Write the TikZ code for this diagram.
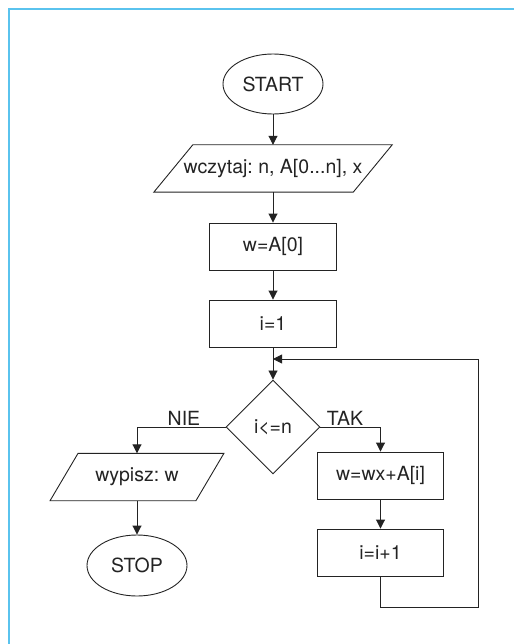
\documentclass[tikz,border=0pt]{standalone}
\usepackage{fontspec}
\setmainfont{TeX Gyre Heros}
\frenchspacing
\usetikzlibrary{shapes.geometric,arrows.meta,calc}
\definecolor{framebl}{RGB}{90,195,238}
\definecolor{ink}{RGB}{35,35,35}
\begin{document}
\begin{tikzpicture}[x=1pt,y=-1pt,
  every node/.style={font=\fontsize{19.5}{22}\selectfont, text=ink},
  shp/.style={draw=ink, line width=0.9pt, inner sep=0pt},
  term/.style={shp, ellipse, minimum width=100, minimum height=60},
  proc/.style={shp, rectangle, minimum width=127, minimum height=47},
  io/.style={rectangle, inner sep=0pt, minimum height=47},
  dec/.style={shp, diamond, minimum width=94, minimum height=94},
  lbl/.style={inner sep=0pt},
  conn/.style={draw=ink, line width=0.9pt, -{Triangle[length=9pt,width=9pt]}},
  plain/.style={draw=ink, line width=0.9pt}]
\useasboundingbox (0,0) rectangle (514,644);
\draw[framebl, line width=2pt] (9,644) -- (9,9) -- (514,9);

\node[term] (start) at (273,84) {START};
\node[io, minimum width=199] (in1) at (273,168.5) {wczytaj: n, A[0...n], x};
\draw[plain] ($(in1.north west)+(19.5,0)$) -- ($(in1.north east)+(19.5,0)$)
  -- ($(in1.south east)+(-19.5,0)$) -- ($(in1.south west)+(-19.5,0)$) -- cycle;
\node[proc] (w0) at (273,246.5) {w=A[0]};
\node[proc] (i1) at (273,323.5) {i=1};
\node[dec] (cond) at (273,427) {i<=n};
\node[io, minimum width=145.5] (out) at (137,477) {wypisz: w};
\draw[plain] ($(out.north west)+(14,0)$) -- ($(out.north east)+(14,0)$)
  -- ($(out.south east)+(-14,0)$) -- ($(out.south west)+(-14,0)$) -- cycle;
\node[term, minimum height=61] (stop) at (137,565.5) {STOP};
\node[proc, minimum width=126] (upd) at (380.5,475.5) {w=wx+A[i]};
\node[proc, minimum width=126] (inc) at (380.5,552.5) {i=i+1};

\node[lbl] (nie) at (184,418) {NIE};
\node[lbl] (tak) at (345,418) {TAK};

\coordinate (join) at (273,359);
\coordinate (lc) at (478,607);

\draw[conn] (start) -- (in1);
\draw[conn] (in1.south) -- (w0);
\draw[conn] (w0) -- (i1);
\draw[conn] (i1) -- (cond);
\draw[conn] (cond.west) -| (out.north);
\draw[conn] (out.south) -- (stop);
\draw[conn] (cond.east) -| (upd.north);
\draw[conn] (upd) -- (inc);
\draw[conn] (inc.south) |- (lc) |- (join);
\end{tikzpicture}
\end{document}
